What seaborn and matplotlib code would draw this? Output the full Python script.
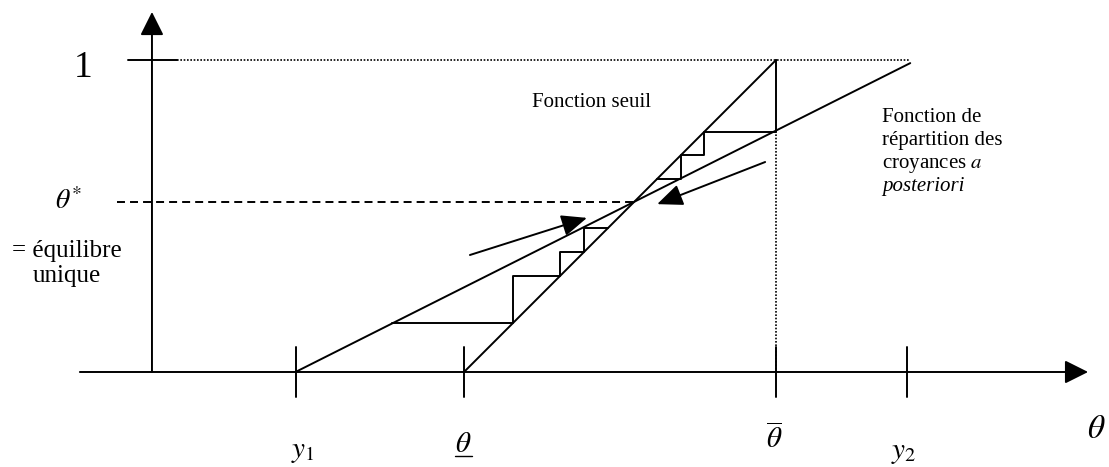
import numpy as np
import pandas as pd
import seaborn as sns
import matplotlib.pyplot as plt

sns.set_theme(style="white")
plt.rcParams['font.family'] = ['Liberation Serif', 'DejaVu Serif']
plt.rcParams['mathtext.fontset'] = 'stix'

# ---- diagram values (abstract units: theta_low = 1, theta_high = 2, y in [0, 1]) ----
y1_pos = 0.46
theta_low = 1.0
theta_high = 2.0
y2_pos = 2.42
theta_star = 0.545
x_star = 1.545
belief_x = [0.46, 2.43]          # fonction de répartition des croyances a posteriori
belief_y = [0.0, 0.99]
threshold_x = [1.0, 2.0]         # fonction seuil
threshold_y = [0.0, 1.0]
upper_steps_x = [2.0, 1.77, 1.77, 1.695, 1.695, 1.62]
upper_steps_y = [0.77, 0.77, 0.695, 0.695, 0.62, 0.62]
lower_steps_x = [0.77, 1.157, 1.157, 1.308, 1.308, 1.385, 1.385, 1.46]
lower_steps_y = [0.157, 0.157, 0.308, 0.308, 0.385, 0.385, 0.46, 0.46]
arrow_in_tail = (1.019, 0.375)
arrow_in_tip = (1.394, 0.494)
arrow_out_tail = (1.965, 0.673)
arrow_out_tip = (1.619, 0.538)
x_ticks = [y1_pos, theta_low, theta_high, y2_pos]
x_tick_labels = [r'$y_1$', r'$\theta$', r'$\overline{\theta}$', r'$y_2$']
belief_at_high = (theta_high - belief_x[0]) / (belief_x[1] - belief_x[0]) * belief_y[1]

fig = plt.figure(figsize=(11.09, 4.67), dpi=100)
ax = fig.add_axes([0, 0, 1, 1])
ax.set_xlim(-0.487, 3.067)
ax.set_ylim(-0.3045, 1.1923)
ax.axis('off')

LW = 1.4
K = 'black'
DOT = (0, (1, 1))

def seg(xs, ys, **kw):
    df = pd.DataFrame({'x': xs, 'y': ys, 'o': range(len(xs))})
    sns.lineplot(data=df, x='x', y='y', sort=False, estimator=None, ax=ax,
                 color=kw.pop('color', K), lw=kw.pop('lw', LW), **kw)

# main functions
seg(belief_x, belief_y)
seg(threshold_x, threshold_y)
seg(upper_steps_x, upper_steps_y)
seg(lower_steps_x, lower_steps_y)

# vertical at theta_high: solid part then dotted part
seg([theta_high, theta_high], [1.0, belief_at_high])
seg([theta_high, theta_high], [belief_at_high, 0.0], lw=1.2, linestyle=DOT)
# dotted level 1
seg([0.08, belief_x[1]], [1.0, 1.0], lw=1.2, linestyle=DOT)
# tick at 1
seg([-0.077, 0.08], [1.0, 1.0])
# dashed equilibrium
seg([-0.112, x_star], [theta_star, theta_star], linestyle=(0, (4.1, 2.6)))
# x ticks
for xt in x_ticks:
    seg([xt, xt], [-0.08, 0.08])

# axes with arrowheads
axis_arrow = dict(arrowstyle='-|>,head_length=0.72,head_width=0.36', mutation_scale=20,
                  lw=LW, color=K, shrinkA=0, shrinkB=0)
ax.annotate('', xy=(3.0, 0.0), xytext=(-0.231, 0.0), arrowprops=axis_arrow)
ax.annotate('', xy=(0.0, 1.154), xytext=(0.0, 0.0), arrowprops=axis_arrow)

# convergence arrows
conv_arrow = dict(arrowstyle='-|>,head_length=0.78,head_width=0.33', mutation_scale=20,
                  lw=LW, color=K, shrinkA=0, shrinkB=0)
ax.annotate('', xy=arrow_in_tip, xytext=arrow_in_tail, arrowprops=conv_arrow)
ax.annotate('', xy=arrow_out_tip, xytext=arrow_out_tail, arrowprops=conv_arrow)

# texts
ax.text(-0.221, 0.946, '1', fontsize=27, ha='center', va='baseline', color=K)
ax.text(-0.311, 0.522, r'$\theta^{*}$', fontsize=20, ha='left', va='baseline', color=K)
ax.text(-0.272, 0.3686, '= équilibre', fontsize=18, ha='center', va='baseline', color=K)
ax.text(-0.272, 0.288, 'unique', fontsize=18, ha='center', va='baseline', color=K)

ax.text(1.218, 0.849, 'Fonction seuil', fontsize=15, ha='left', va='baseline', color=K)
rx = 2.34
ax.text(rx, 0.801, 'Fonction de', fontsize=15, ha='left', va='baseline', color=K)
ax.text(rx, 0.7276, 'répartition des', fontsize=15, ha='left', va='baseline', color=K)
ax.text(rx, 0.654, r'croyances $\mathit{a}$', fontsize=15, ha='left', va='baseline', color=K)
ax.text(rx, 0.580, 'posteriori', fontsize=15, ha='left', va='baseline', color=K, fontstyle='italic')

label_x = [0.484, 0.997, 1.994, 2.41]
label_y = [-0.272, -0.256, -0.2436, -0.276]
for lx, ly, lab in zip(label_x, label_y, x_tick_labels):
    ax.text(lx, ly, lab, fontsize=21, ha='center', va='baseline', color=K)
# underline of theta (lower bound)
seg([0.971, 1.026], [-0.269, -0.269], lw=1.0)
ax.text(3.026, -0.2115, r'$\theta$', fontsize=24, ha='center', va='baseline', color=K)

fig.savefig('out.png', dpi=100)
